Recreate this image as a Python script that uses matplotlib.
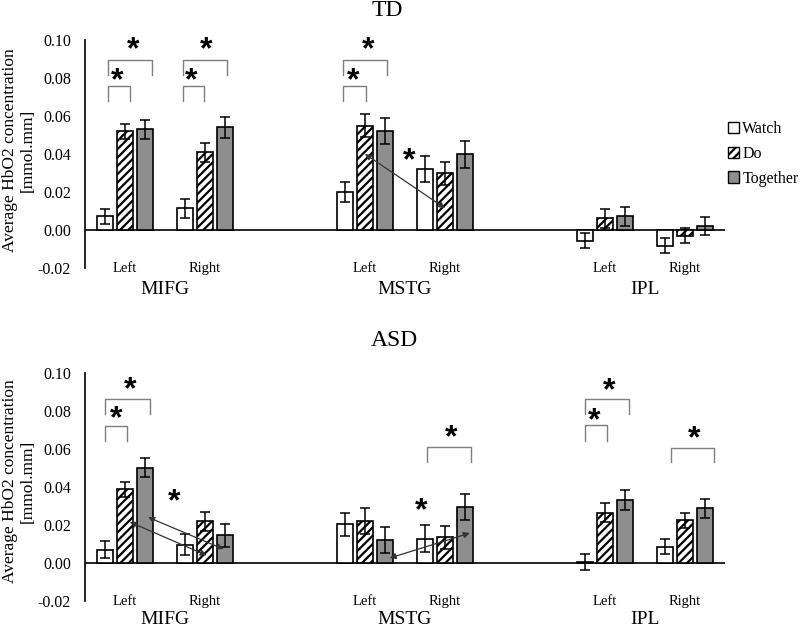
import matplotlib
matplotlib.use("Agg")
import matplotlib.pyplot as plt
from matplotlib.patches import Patch
import numpy as np

plt.rcParams['font.family'] = ['Liberation Serif', 'DejaVu Serif']
plt.rcParams['hatch.linewidth'] = 1.6

regions = ['MIFG', 'MSTG', 'IPL']
sides = ['Left', 'Right']
conditions = ['Watch', 'Do', 'Together']
yticks = [-0.02, 0.00, 0.02, 0.04, 0.06, 0.08, 0.10]

td_watch = [0.0073, 0.0115, 0.020, 0.032, -0.0056, -0.0082]
td_watch_err = [0.004, 0.005, 0.0055, 0.0067, 0.004, 0.004]
td_do = [0.052, 0.041, 0.055, 0.0298, 0.0061, -0.003]
td_do_err = [0.004, 0.005, 0.006, 0.006, 0.005, 0.004]
td_together = [0.053, 0.054, 0.052, 0.0398, 0.0072, 0.0021]
td_together_err = [0.005, 0.0055, 0.0067, 0.007, 0.005, 0.0045]

asd_watch = [0.007, 0.0096, 0.0203, 0.0128, 0.0005, 0.0085]
asd_watch_err = [0.0043, 0.0055, 0.006, 0.007, 0.004, 0.004]
asd_do = [0.0388, 0.022, 0.0222, 0.0134, 0.0265, 0.0224]
asd_do_err = [0.004, 0.005, 0.0068, 0.006, 0.005, 0.004]
asd_together = [0.050, 0.0145, 0.012, 0.0296, 0.033, 0.0287]
asd_together_err = [0.005, 0.006, 0.0067, 0.0068, 0.0054, 0.005]

# significance brackets: (x_left, x_right, y_top, y_leg_bottom)
td_brackets = [(-0.21, 0.06, 0.0759, 0.068), (-0.21, 0.34, 0.0895, 0.0817),
               (0.72, 0.99, 0.0759, 0.068), (0.72, 1.27, 0.0895, 0.0817),
               (2.73, 3.01, 0.0759, 0.068), (2.73, 3.28, 0.0895, 0.0817)]
td_stars = [(-0.10, 0.082), (0.10, 0.098), (0.83, 0.082), (1.02, 0.098),
            (2.85, 0.082), (3.04, 0.098), (3.55, 0.040)]
td_arrows = [((3.0, 0.040), (4.0, 0.0115))]

asd_brackets = [(-0.25, 0.03, 0.0722, 0.0643), (-0.25, 0.31, 0.0862, 0.0782),
                (3.77, 4.32, 0.0609, 0.0528),
                (5.75, 6.02, 0.0724, 0.0643), (5.75, 6.30, 0.0860, 0.0783),
                (6.82, 7.36, 0.0606, 0.0528)]
asd_stars = [(-0.11, 0.079), (0.06, 0.0946), (0.61, 0.0355), (4.075, 0.069),
             (3.70, 0.0306), (5.86, 0.0783), (6.05, 0.094), (7.11, 0.0685)]
asd_arrows = [((0.06, 0.0215), (1.02, 0.004)), ((0.29, 0.024), (1.23, 0.0073)),
              ((3.31, 0.0026), (4.31, 0.0157))]

W, H = 800, 629
fig = plt.figure(figsize=(W / 100, H / 100), dpi=100)

positions = np.array([r * 3 + s for r in range(len(regions)) for s in range(len(sides))], dtype=float)
offsets = [-0.25, 0.0, 0.25]
bw = 0.21
fills = ['white', 'white', '#8e8e8e']
hatches = [None, '////', None]


def panel(rect, title, title_xy, vals, errs, brackets, stars, arrows, ylab_y, reg_y):
    ax = fig.add_axes(rect)
    for k in range(3):
        ax.bar(positions + offsets[k], vals[k], width=bw, color=fills[k], edgecolor='black',
               linewidth=1.2, hatch=hatches[k], zorder=2)
        ax.errorbar(positions + offsets[k], vals[k], yerr=errs[k], fmt='none', ecolor='black',
                    elinewidth=1.1, capsize=3.5, capthick=1.1, zorder=3)
    ax.set_xlim(-0.5, 7.5)
    ax.set_ylim(-0.02, 0.10)
    ax.set_yticks(yticks)
    ax.set_yticklabels([f'{t:.2f}' for t in yticks], fontsize=11.5)
    ax.tick_params(axis='y', length=0, pad=10)
    ax.set_xticks([])
    for sp in ['top', 'right', 'bottom']:
        ax.spines[sp].set_visible(False)
    ax.spines['left'].set_linewidth(1.2)
    ax.axhline(0, color='black', lw=1.2, zorder=1)
    for i, p in enumerate(positions):
        ax.text(p, -0.0205, sides[i % 2], ha='center', va='center', fontsize=10.5)
    for r, reg in enumerate(regions):
        ax.text(r * 3 + 0.5, reg_y, reg, ha='center', va='center', fontsize=14, clip_on=False)
    for (x0, x1, yt, yb) in brackets:
        ax.plot([x0, x0, x1, x1], [yb, yt, yt, yb], color='#7f7f7f', lw=1.0, zorder=4)
    for (x, y) in stars:
        ax.annotate('*', xy=(x, y), xytext=(0, -5), textcoords='offset points',
                    ha='center', va='center', fontsize=23, family='Liberation Sans',
                    fontweight='bold', zorder=5)
    for (a, b) in arrows:
        ax.annotate('', xy=b, xytext=a,
                    arrowprops=dict(arrowstyle='<|-|>', color='#333333', lw=0.9,
                                    mutation_scale=9, shrinkA=0, shrinkB=0), zorder=5)
    fig.text(title_xy[0] / W, 1 - title_xy[1] / H, title, ha='center', va='center', fontsize=17)
    fig.text(19 / W, 1 - ylab_y / H, 'Average HbO2 concentration\n[mmol.mm]', rotation=90,
             ha='center', va='center', fontsize=12.5, linespacing=1.1, multialignment='center')
    return ax


# top panel: y=0.10 at 40px, -0.02 at 268px; x from 85 to 725
ax1 = panel([85 / W, 1 - 268 / H, 640 / W, 228 / H], 'TD', (387, 11),
            [td_watch, td_do, td_together], [td_watch_err, td_do_err, td_together_err],
            td_brackets, td_stars, td_arrows, 150, -0.0315)
ax2 = panel([85 / W, 1 - 601 / H, 640 / W, 228.3 / H], 'ASD', (394, 341),
            [asd_watch, asd_do, asd_together], [asd_watch_err, asd_do_err, asd_together_err],
            asd_brackets, asd_stars, asd_arrows, 481, -0.0298)

handles = [Patch(facecolor=fills[k], edgecolor='black', hatch=hatches[k], linewidth=1.0)
           for k in range(3)]
fig.legend(handles, conditions, loc='upper left', bbox_to_anchor=(728 / W, 1 - 121 / H),
           frameon=False, fontsize=11.5, handlelength=0.7, handleheight=0.7,
           handletextpad=0.2, labelspacing=0.55, borderaxespad=0, borderpad=0)

fig.savefig('out.png', dpi=100)
